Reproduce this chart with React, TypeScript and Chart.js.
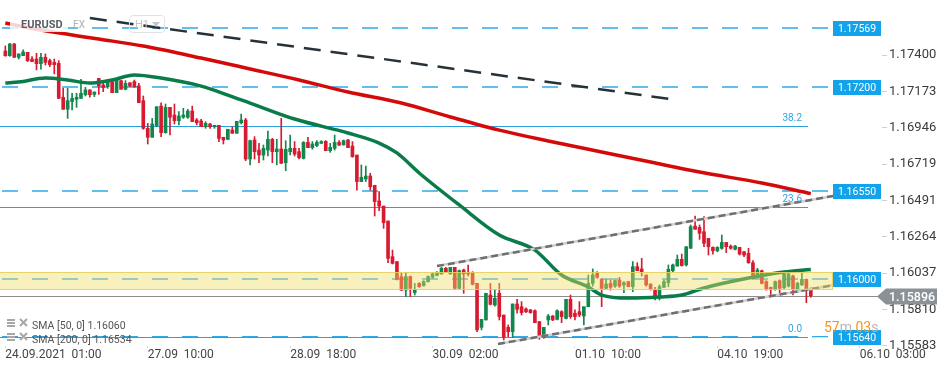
import React, { useEffect, useRef } from 'react';
import { Chart, registerables } from 'chart.js';

Chart.register(...registerables);

// ---------- DATA ----------
const OPEN = [
  1.17425,1.17396,1.17469,1.17386,1.17396,1.17417,1.17375,1.17375,1.17346,1.17386,
  1.17365,1.17354,1.17348,1.17136,1.17061,1.17109,1.17123,1.17129,1.17152,1.17182,
  1.17154,1.17254,1.17213,1.17202,1.17234,1.17165,1.17240,1.17186,1.17227,1.17234,
  1.17207,1.17115,1.16942,1.16886,1.16959,1.17081,1.16915,1.17073,1.17025,1.16990,
  1.17011,1.17011,1.17050,1.16994,1.16988,1.16952,1.16969,1.16952,1.16961,1.16886,
  1.16873,1.16931,1.16911,1.16977,1.16994,1.16750,1.16869,1.16806,1.16775,1.16806,
  1.16873,1.16796,1.16813,1.16727,1.16796,1.16817,1.16796,1.16754,1.16854,1.16821,
  1.16834,1.16848,1.16861,1.16802,1.16817,1.16854,1.16838,1.16869,1.16831,1.16775,
  1.16609,1.16625,1.16644,1.16586,1.16488,1.16456,1.16363,1.16140,1.16109,1.16015,
  1.15931,1.16015,1.15915,1.15973,1.15959,1.15984,1.16011,1.16023,1.16032,1.16067,
  1.16032,1.16073,1.15942,1.16057,1.16040,1.16040,1.15973,1.15698,1.15744,1.15900,
  1.15838,1.15911,1.15775,1.15698,1.15671,1.15844,1.15827,1.15813,1.15807,1.15802,
  1.15734,1.15636,1.15744,1.15769,1.15748,1.15796,1.15754,1.15873,1.15786,1.15796,
  1.15769,1.15827,1.15973,1.16040,1.15998,1.15942,1.15973,1.15956,1.15994,1.15963,
  1.15984,1.15952,1.16077,1.16063,1.16025,1.15969,1.15931,1.15890,1.15948,1.15977,
  1.16052,1.16081,1.16123,1.16088,1.16192,1.16331,1.16323,1.16296,1.16254,1.16198,
  1.16177,1.16192,1.16229,1.16206,1.16186,1.16198,1.16171,1.16161,1.16102,1.16019,
  1.16052,1.15984,1.15948,1.15936,1.15990,1.15946,1.15956,1.16019,1.15936,1.15963,
  1.15998,1.15942,
];
const HIGH = [
  1.17457,1.17473,1.17473,1.17407,1.17432,1.17417,1.17390,1.17411,1.17411,1.17407,
  1.17375,1.17375,1.17365,1.17192,1.17192,1.17161,1.17161,1.17248,1.17198,1.17182,
  1.17169,1.17254,1.17223,1.17244,1.17244,1.17244,1.17240,1.17240,1.17227,1.17244,
  1.17223,1.17144,1.16973,1.17004,1.17077,1.17102,1.17094,1.17073,1.17094,1.17046,
  1.17067,1.17061,1.17081,1.17004,1.16998,1.16984,1.16973,1.16961,1.16961,1.16886,
  1.16936,1.16952,1.16986,1.17031,1.17004,1.16869,1.16890,1.16848,1.16838,1.16925,
  1.16879,1.16873,1.17004,1.16865,1.16900,1.16859,1.16817,1.16859,1.16886,1.16859,
  1.16865,1.16865,1.16865,1.16848,1.16900,1.16865,1.16869,1.16873,1.16859,1.16775,
  1.16713,1.16706,1.16661,1.16586,1.16546,1.16456,1.16363,1.16181,1.16109,1.16036,
  1.16040,1.16019,1.15973,1.15977,1.15990,1.16020,1.16040,1.16046,1.16073,1.16073,
  1.16073,1.16073,1.16057,1.16062,1.16088,1.16046,1.15973,1.15748,1.15911,1.15973,
  1.15936,1.15973,1.15775,1.15713,1.15844,1.15873,1.15859,1.15820,1.15811,1.15807,
  1.15734,1.15698,1.15779,1.15772,1.15807,1.15802,1.15873,1.15900,1.15807,1.15859,
  1.15827,1.16025,1.16063,1.16046,1.16004,1.15998,1.15994,1.15994,1.16011,1.15984,
  1.15984,1.16109,1.16102,1.16129,1.16025,1.15969,1.15948,1.15963,1.15994,1.16088,
  1.16094,1.16150,1.16156,1.16202,1.16338,1.16394,1.16338,1.16390,1.16254,1.16202,
  1.16202,1.16275,1.16229,1.16213,1.16210,1.16198,1.16171,1.16192,1.16115,1.16067,
  1.16056,1.15990,1.15950,1.15988,1.15995,1.16035,1.16035,1.16025,1.15980,1.16035,
  1.16000,1.15946,
];
const LOW = [
  1.17392,1.17392,1.17384,1.17375,1.17396,1.17359,1.17359,1.17307,1.17311,1.17338,
  1.17327,1.17282,1.17129,1.17061,1.17004,1.17057,1.17073,1.17129,1.17144,1.17136,
  1.17140,1.17154,1.17171,1.17192,1.17165,1.17165,1.17186,1.17182,1.17202,1.17198,
  1.17102,1.16936,1.16844,1.16886,1.16952,1.16890,1.16911,1.16900,1.16969,1.16963,
  1.17004,1.17004,1.16984,1.16963,1.16952,1.16942,1.16942,1.16942,1.16859,1.16844,
  1.16873,1.16911,1.16911,1.16969,1.16740,1.16713,1.16750,1.16727,1.16744,1.16769,
  1.16727,1.16713,1.16723,1.16677,1.16775,1.16769,1.16750,1.16750,1.16821,1.16811,
  1.16827,1.16848,1.16802,1.16792,1.16806,1.16834,1.16838,1.16821,1.16761,1.16556,
  1.16609,1.16609,1.16556,1.16394,1.16427,1.16317,1.16102,1.16094,1.15994,1.15927,
  1.15890,1.15890,1.15900,1.15948,1.15955,1.15980,1.16005,1.16020,1.16030,1.16040,
  1.16030,1.15936,1.15936,1.15911,1.16020,1.15963,1.15671,1.15682,1.15744,1.15838,
  1.15830,1.15744,1.15619,1.15640,1.15636,1.15786,1.15775,1.15790,1.15786,1.15727,
  1.15623,1.15629,1.15713,1.15740,1.15744,1.15727,1.15750,1.15754,1.15744,1.15765,
  1.15713,1.15827,1.15956,1.16004,1.15827,1.15936,1.15931,1.15948,1.15948,1.15915,
  1.15952,1.15921,1.16052,1.16019,1.15956,1.15931,1.15869,1.15869,1.15948,1.15952,
  1.16046,1.16081,1.16081,1.16081,1.16192,1.16311,1.16248,1.16202,1.16150,1.16156,
  1.16170,1.16186,1.16165,1.16186,1.16182,1.16150,1.16140,1.16098,1.16015,1.16015,
  1.15969,1.15930,1.15894,1.15930,1.15915,1.15940,1.15950,1.15900,1.15915,1.15960,
  1.15852,1.15886,
];
const CLOSE = [
  1.17396,1.17469,1.17386,1.17407,1.17419,1.17365,1.17359,1.17346,1.17386,1.17354,
  1.17340,1.17340,1.17129,1.17061,1.17115,1.17129,1.17136,1.17161,1.17182,1.17152,
  1.17169,1.17207,1.17198,1.17234,1.17165,1.17244,1.17186,1.17223,1.17207,1.17202,
  1.17102,1.16942,1.16886,1.16969,1.17077,1.16915,1.17073,1.17011,1.16990,1.17019,
  1.17025,1.17050,1.16984,1.16977,1.16952,1.16973,1.16952,1.16961,1.16879,1.16869,
  1.16936,1.16911,1.16986,1.16994,1.16750,1.16865,1.16796,1.16775,1.16817,1.16873,
  1.16796,1.16813,1.16723,1.16811,1.16817,1.16781,1.16759,1.16854,1.16821,1.16844,
  1.16854,1.16859,1.16802,1.16823,1.16854,1.16838,1.16865,1.16821,1.16765,1.16609,
  1.16636,1.16644,1.16577,1.16484,1.16456,1.16352,1.16129,1.16098,1.15998,1.15931,
  1.16015,1.15942,1.15936,1.15952,1.15984,1.16015,1.16032,1.16040,1.16067,1.16046,
  1.16073,1.15942,1.16052,1.16032,1.16032,1.15967,1.15682,1.15748,1.15911,1.15842,
  1.15879,1.15765,1.15636,1.15671,1.15844,1.15811,1.15790,1.15796,1.15790,1.15727,
  1.15636,1.15698,1.15769,1.15744,1.15802,1.15765,1.15873,1.15765,1.15765,1.15775,
  1.15827,1.15973,1.16025,1.16011,1.15942,1.15969,1.15948,1.15990,1.15956,1.15977,
  1.15952,1.16077,1.16052,1.16046,1.15963,1.15936,1.15894,1.15952,1.15984,1.16061,
  1.16088,1.16123,1.16084,1.16202,1.16327,1.16311,1.16286,1.16223,1.16202,1.16177,
  1.16198,1.16229,1.16202,1.16192,1.16206,1.16156,1.16150,1.16102,1.16019,1.16056,
  1.15973,1.15936,1.15936,1.15984,1.15942,1.16031,1.16031,1.15936,1.15973,1.15998,
  1.15936,1.15896,
];

// SMA lines read at selected bar indices
const SMA50_IDX = [0,3,9,14,19,24,29,35,44,50,55,65,77,84,88,93,102,111,119,125,131,134,140,147,152,157,167,175,181];
const SMA50_VAL = [1.17225,1.17231,1.17256,1.17244,1.17225,1.17244,1.17275,1.17256,1.17206,1.17150,1.17100,1.17000,1.16913,1.16850,1.16788,1.16663,1.16463,1.16275,1.16181,1.16025,1.15950,1.15900,1.15881,1.15888,1.15900,1.15944,1.16006,1.16044,1.16060];
const SMA200_IDX = [0,8,21,31,44,55,66,77,89,100,111,122,134,145,156,170,181];
const SMA200_VAL = [1.17600,1.17556,1.17500,1.17456,1.17381,1.17313,1.17244,1.17169,1.17100,1.17013,1.16931,1.16863,1.16794,1.16731,1.16669,1.16600,1.16534];

// Trend lines (bar index, price)
const TREND_IDX = [19, 149.4];
const TREND_VAL = [1.17631, 1.17125];
const CH_UP_IDX = [97, 186];
const CH_UP_VAL = [1.16081, 1.16519];
const CH_LO_IDX = [110.7, 188.7];
const CH_LO_VAL = [1.15594, 1.15975];

// Horizontal levels
const LEVELS = [1.17569, 1.17200, 1.16550, 1.16000, 1.15640];
const FIB_LABELS = ['38.2', '23.6', '0.0'];
const FIB_VALUES = [1.16955, 1.16451, 1.15636];
const ZONE = [1.15938, 1.16044];
const LAST_PRICE = 1.15896;

// Axes
const Y_TICKS = [1.17400, 1.17173, 1.16946, 1.16719, 1.16491, 1.16264, 1.16037, 1.15810, 1.15583];
const X_TICK_IDX = [0, 32, 64, 96, 128, 160, 192];
const X_TICK_LABELS = ['24.09.2021  01:00', '27.09  10:00', '28.09  18:00', '30.09  02:00', '01.10  10:00', '04.10  19:00', '06.10  03:00'];

// Texts
const SYMBOL = 'EURUSD';
const SYMBOL_SUFFIX = 'EX';
const TIMEFRAME = 'H1';
const LEGEND_ROWS = ['SMA [50, 0] 1.16060', 'SMA [200, 0] 1.16534'];
const TIMER_PARTS = ['57', 'm', ' 03', 's'];

const RED = '#d71a2f';
const GREEN = '#13864e';
const FONT = 'Roboto';

export default function App() {
  const ref = useRef<HTMLCanvasElement>(null);

  useEffect(() => {
    const canvas = ref.current;
    if (!canvas) return;
    Chart.defaults.font.family = FONT;

    const idx = OPEN.map((_, i) => i);
    const colors = idx.map((i) => (CLOSE[i] >= OPEN[i] ? GREEN : RED));
    const pts = (xs: number[], ys: number[]) => xs.map((x, i) => ({ x, y: ys[i] }));

    const overlay = {
      id: 'overlay',
      beforeDatasetsDraw(chart: any) {
        const { ctx, chartArea: a, scales } = chart;
        const y = scales.y;
        ctx.save();
        // fib solid lines
        ctx.strokeStyle = '#2a9fdc';
        ctx.lineWidth = 1;
        FIB_VALUES.forEach((v) => {
          const py = Math.round(y.getPixelForValue(v)) + 0.5;
          ctx.beginPath();
          ctx.moveTo(a.left, py);
          ctx.lineTo(a.right - 74, py);
          ctx.stroke();
        });
        // dashed levels
        ctx.strokeStyle = '#2fa9e8';
        ctx.lineWidth = 1.4;
        ctx.setLineDash([16, 14]);
        LEVELS.forEach((v) => {
          const py = y.getPixelForValue(v);
          ctx.beginPath();
          ctx.moveTo(a.left + 2, py);
          ctx.lineTo(a.right - 54, py);
          ctx.stroke();
        });
        ctx.setLineDash([]);
        // last price line
        const lp = Math.round(y.getPixelForValue(LAST_PRICE)) + 0.5;
        ctx.strokeStyle = '#8d8d8d';
        ctx.lineWidth = 1.2;
        ctx.beginPath();
        ctx.moveTo(a.left, lp);
        ctx.lineTo(a.right, lp);
        ctx.stroke();
        ctx.restore();
      },
      afterDatasetsDraw(chart: any) {
        const { ctx, chartArea: a, scales } = chart;
        const y = scales.y;
        ctx.save();
        // zone box
        const zt = Math.round(y.getPixelForValue(ZONE[1])) + 0.5;
        const zb = Math.round(y.getPixelForValue(ZONE[0])) + 0.5;
        const zr = a.right - 49;
        ctx.fillStyle = 'rgba(238,222,98,0.42)';
        ctx.fillRect(a.left, zt, zr - a.left, zb - zt);
        ctx.strokeStyle = 'rgba(228,208,90,0.9)';
        ctx.lineWidth = 1;
        ctx.strokeRect(a.left - 1, zt, zr - a.left + 0.5, zb - zt);

        // level label boxes
        ctx.font = `10.5px ${FONT}`;
        ctx.textAlign = 'center';
        ctx.textBaseline = 'middle';
        LEVELS.forEach((v) => {
          const py = Math.round(y.getPixelForValue(v));
          ctx.fillStyle = '#12a3ea';
          ctx.fillRect(a.right - 49, py - 7, 48, 15);
          ctx.fillStyle = '#ffffff';
          ctx.fillText(v.toFixed(5), a.right - 25, py + 1);
        });

        // fib labels
        ctx.font = `10px ${FONT}`;
        ctx.textAlign = 'right';
        ctx.textBaseline = 'alphabetic';
        ctx.fillStyle = '#2ea6e3';
        FIB_VALUES.forEach((v, i) => {
          ctx.fillText(FIB_LABELS[i], a.right - 80, y.getPixelForValue(v) - 5);
        });

        // last price tag
        const lp = Math.round(y.getPixelForValue(LAST_PRICE)) + 0.5;
        ctx.fillStyle = '#8a9297';
        ctx.beginPath();
        ctx.moveTo(a.right - 5, lp);
        ctx.lineTo(a.right + 4, lp - 8);
        ctx.lineTo(a.right + 55, lp - 8);
        ctx.lineTo(a.right + 55, lp + 8);
        ctx.lineTo(a.right + 4, lp + 8);
        ctx.closePath();
        ctx.fill();
        ctx.fillStyle = '#ffffff';
        ctx.font = `500 12.5px ${FONT}`;
        ctx.textAlign = 'left';
        ctx.textBaseline = 'middle';
        ctx.fillText(LAST_PRICE.toFixed(5), a.right + 7, lp + 1);

        // timer
        ctx.font = `14px ${FONT}`;
        ctx.textBaseline = 'alphabetic';
        ctx.textAlign = 'left';
        let tx = a.right - 58;
        const ty = y.getPixelForValue(LEVELS[4]) - 5;
        TIMER_PARTS.forEach((t, i) => {
          ctx.fillStyle = i % 2 === 0 ? '#f7941d' : '#b5b5b5';
          ctx.fillText(t, tx, ty);
          tx += ctx.measureText(t).width;
        });

        // header
        ctx.fillStyle = 'rgba(255,255,255,0.82)';
        ctx.fillRect(a.left + 10, 14, 58, 18);
        ctx.font = `bold 11px ${FONT}`;
        ctx.fillStyle = '#5a5e63';
        ctx.fillText(SYMBOL, a.left + 21, 28);
        ctx.font = `10px ${FONT}`;
        ctx.fillStyle = '#b0b0b0';
        ctx.fillText(SYMBOL_SUFFIX, a.left + 73, 28);
        ctx.strokeStyle = '#e2e2e2';
        ctx.lineWidth = 1;
        ctx.beginPath();
        if ((ctx as any).roundRect) (ctx as any).roundRect(a.left + 129.5, 15.5, 35, 17, 3);
        else ctx.rect(a.left + 129.5, 15.5, 35, 17);
        ctx.stroke();
        ctx.font = `11px ${FONT}`;
        ctx.fillStyle = '#c4c4c4';
        ctx.fillText(TIMEFRAME, a.left + 135, 28);
        ctx.beginPath();
        ctx.moveTo(a.left + 152, 22);
        ctx.lineTo(a.left + 160, 22);
        ctx.lineTo(a.left + 156, 27);
        ctx.closePath();
        ctx.fillStyle = '#c8c8c8';
        ctx.fill();

        // legend rows
        LEGEND_ROWS.forEach((t, i) => {
          const by = 329 + i * 14;
          ctx.fillStyle = '#a8a8a8';
          ctx.fillRect(a.left + 7, by - 10, 8, 2);
          ctx.fillRect(a.left + 7, by - 7, 8, 2);
          ctx.fillRect(a.left + 7, by - 4, 8, 2);
          ctx.strokeStyle = '#a8a8a8';
          ctx.lineWidth = 2;
          ctx.beginPath();
          ctx.moveTo(a.left + 20, by - 10);
          ctx.lineTo(a.left + 27, by - 3);
          ctx.moveTo(a.left + 27, by - 10);
          ctx.lineTo(a.left + 20, by - 3);
          ctx.stroke();
          ctx.font = `10.5px ${FONT}`;
          ctx.fillStyle = '#555555';
          ctx.textAlign = 'left';
          ctx.fillText(t, a.left + 32, by);
        });
        ctx.restore();
      },
    };

    const chart = new Chart(canvas, {
      type: 'bar',
      data: {
        datasets: [
          {
            type: 'line',
            data: pts(CH_UP_IDX, CH_UP_VAL),
            borderColor: '#6f6f6f',
            borderWidth: 2.5,
            borderDash: [7, 4],
            pointRadius: 0,
            order: 0,
          } as any,
          {
            type: 'line',
            data: pts(CH_LO_IDX, CH_LO_VAL),
            borderColor: '#6f6f6f',
            borderWidth: 2.5,
            borderDash: [7, 4],
            pointRadius: 0,
            order: 0,
          } as any,
          {
            type: 'line',
            data: pts(CH_UP_IDX, CH_UP_VAL),
            borderColor: '#cfcfcf',
            borderWidth: 2.5,
            pointRadius: 0,
            order: 1,
          } as any,
          {
            type: 'line',
            data: pts(CH_LO_IDX, CH_LO_VAL),
            borderColor: '#cfcfcf',
            borderWidth: 2.5,
            pointRadius: 0,
            order: 1,
          } as any,
          {
            type: 'line',
            data: pts(TREND_IDX, TREND_VAL),
            borderColor: '#263238',
            borderWidth: 2.5,
            borderDash: [17, 10],
            pointRadius: 0,
            order: 1,
          } as any,
          {
            type: 'line',
            data: pts(SMA50_IDX, SMA50_VAL),
            borderColor: '#0a7c4a',
            borderWidth: 3.5,
            pointRadius: 0,
            cubicInterpolationMode: 'monotone',
            order: 2,
          } as any,
          {
            type: 'line',
            data: pts(SMA200_IDX, SMA200_VAL),
            borderColor: '#d40a0a',
            borderWidth: 3.5,
            pointRadius: 0,
            cubicInterpolationMode: 'monotone',
            order: 2,
          } as any,
          {
            type: 'bar',
            data: idx.map((i) => ({ x: i, y: [OPEN[i], CLOSE[i]] })),
            backgroundColor: colors,
            barThickness: 3,
            minBarLength: 1,
            grouped: false,
            order: 4,
          } as any,
          {
            type: 'bar',
            data: idx.map((i) => ({ x: i, y: [LOW[i], HIGH[i]] })),
            backgroundColor: colors,
            barThickness: 1,
            grouped: false,
            order: 5,
          } as any,
        ],
      },
      options: {
        responsive: false,
        animation: false,
        devicePixelRatio: 1,
        events: [],
        layout: { padding: 0 },
        plugins: { legend: { display: false }, tooltip: { enabled: false } },
        scales: {
          x: {
            type: 'linear',
            min: -1.2,
            max: 197,
            offset: false,
            afterBuildTicks: (s: any) => {
              s.ticks = X_TICK_IDX.map((v) => ({ value: v }));
            },
            afterFit: (s: any) => {
              s.height = 25;
              s.paddingLeft = 0;
              s.paddingRight = 0;
            },
            ticks: {
              callback: (_v: any, i: number) => X_TICK_LABELS[i] ?? '',
              align: 'start',
              autoSkip: false,
              maxRotation: 0,
              minRotation: 0,
              padding: 0,
              color: '#444444',
              font: { size: 12, family: FONT },
            },
            grid: { drawOnChartArea: false, tickLength: 2, color: '#d8d8d8', offset: false },
            border: { display: false },
          },
          y: {
            position: 'right',
            min: 1.155815,
            max: 1.17744,
            afterBuildTicks: (s: any) => {
              s.ticks = Y_TICKS.map((v) => ({ value: v }));
            },
            afterFit: (s: any) => {
              s.width = 68;
              s.paddingTop = 0;
              s.paddingBottom = 0;
            },
            ticks: {
              callback: (v: any) => Number(v).toFixed(5),
              crossAlign: 'near',
              padding: 2,
              color: '#3c3c3c',
              font: { size: 13, family: FONT },
            },
            grid: { drawOnChartArea: false, tickLength: 5, color: '#d0d0d0' },
            border: { display: false },
          },
        },
      } as any,
      plugins: [overlay],
    });

    return () => chart.destroy();
  }, []);

  return (
    <div style={{ position: 'fixed', left: 0, top: 0, width: 950, height: 371, background: '#ffffff' }}>
      <canvas ref={ref} width={950} height={371} style={{ width: 950, height: 371, display: 'block' }} />
    </div>
  );
}
